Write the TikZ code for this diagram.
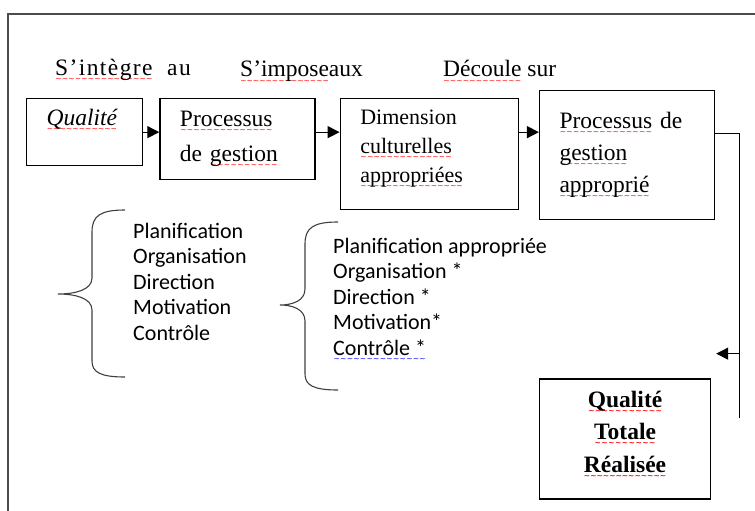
\documentclass[tikz,border=0pt]{standalone}
\usepackage{fontspec}
\setmainfont{Liberation Serif}
\newfontfamily\calib{Carlito}
\newfontfamily\wavefont{DejaVu Sans}
\usetikzlibrary{positioning,arrows.meta}

% wavy spelling marks under words
\newcommand\squig[2]{\leavevmode\setbox0\hbox{#2}\rlap{\raisebox{-6pt}{\hbox to \wd0{\color{#1}\wavefont\fontsize{7.5}{7.5}\selectfont\xleaders\hbox{∼}\hfill}}}\box0\relax}
\newcommand\redwave[1]{\squig{red}{#1}}
\newcommand\bluewave[1]{\squig{blue}{#1}}

\begin{document}
\begin{tikzpicture}[
    x=1pt, y=-1pt,
    frame/.style={draw=black!70, line width=1.6pt},
    box/.style={draw, line width=1.3pt, anchor=north west, align=left, inner xsep=20pt, inner ysep=0pt, font=\fontsize{23.5}{32}\selectfont},
    list/.style={anchor=north west, align=left, inner sep=0pt, font=\calib\fontsize{22}{25.5}\selectfont},
    note/.style={anchor=base west, inner sep=0pt, font=\fontsize{23.5}{28}\selectfont},
    curly/.style={draw=black!75, line width=1.1pt},
    wire/.style={line width=1.3pt},
    arrow/.style={-{Triangle[length=12pt,width=12pt]}, line width=1.3pt}
]
    \useasboundingbox (0,0) rectangle (755,511);
    \draw[frame] (8,14) rectangle (780,540);

    % top row
    \node[note, font={\fontsize{23.5}{28}\selectfont\addfontfeatures{LetterSpace=6}}] (integ) at (55,75) {\redwave{S’intègre}\ \ au};
    \node[note] (impose) at (240,77) {\redwave{S’impose}aux};
    \node[note] (decoule) at (443,77) {\redwave{Découle} sur};

    \node[box, text width=76pt, minimum height=67pt] (qual) at (26,98) {\textit{\redwave{Qualité}}\\[-12pt]\strut};
    \node[box, text width=115pt, minimum height=81pt, right=16pt of qual.north east, anchor=north west, font=\fontsize{23.5}{35}\selectfont] (proc) {\redwave{Processus}\\de \redwave{gestion}};
    \node[box, text width=138pt, minimum height=111pt, right=24pt of proc.north east, anchor=north west, font=\fontsize{22}{29}\selectfont] (dim) {Dimension\\\redwave{culturelles}\\\redwave{appropriées}\\[-22pt]\strut};
    \node[box, text width=135pt, minimum height=129pt, right=20pt of dim.north east, anchor=north west, yshift=8pt] (gest) {\redwave{Processus} de\\\redwave{gestion}\\\redwave{approprié}};
    \node[box, align=center, text width=131pt, minimum height=120pt, below=158pt of gest.south west, anchor=north west, font=\bfseries\fontsize{23.5}{32.5}\selectfont] (tot) {\redwave{Qualité}\\\redwave{Totale}\\\redwave{Réalisée}\\[-28pt]\strut};

    \draw[arrow] (qual.east) -- (qual.east -| proc.west);
    \draw[arrow] (proc.east |- qual.east) -- (qual.east -| dim.west);
    \draw[arrow] (dim.east |- qual.east) -- (qual.east -| gest.west);

    % return line on the right
    \draw[wire] ([yshift=21.5pt]gest.east) -- ++(24,0) coordinate (bend) -- ++(0,284) coordinate (foot);
    \coordinate (tap) at ([yshift=-220pt]bend);
    \coordinate (aim) at ([xshift=-23pt]tap);
    \draw[arrow] (tap) -- (aim);

    % the two lists with their braces
    \node[list] (plan) at (133,223) {Planification\\Organisation\\Direction\\Motivation\\Contrôle};
    \node[list] (planapp) at (333,238) {Planification appropriée\\Organisation *\\Direction *\\Motivation*\\\bluewave{Contrôle *}};

    \draw[curly] (125,210) .. controls (100,210) and (92,216) .. (92,232) -- (92,278) .. controls (92,290) and (75,294) .. (58,294) .. controls (75,294) and (92,298) .. (92,310) -- (92,361) .. controls (92,372) and (100,377) .. (125,377);
    \draw[curly] (338,222) .. controls (313,222) and (305,228) .. (305,244) -- (305,289) .. controls (305,301) and (292,305) .. (280,305) .. controls (292,305) and (305,309) .. (305,321) -- (305,374) .. controls (305,385) and (313,390) .. (338,390);
\end{tikzpicture}
\end{document}
